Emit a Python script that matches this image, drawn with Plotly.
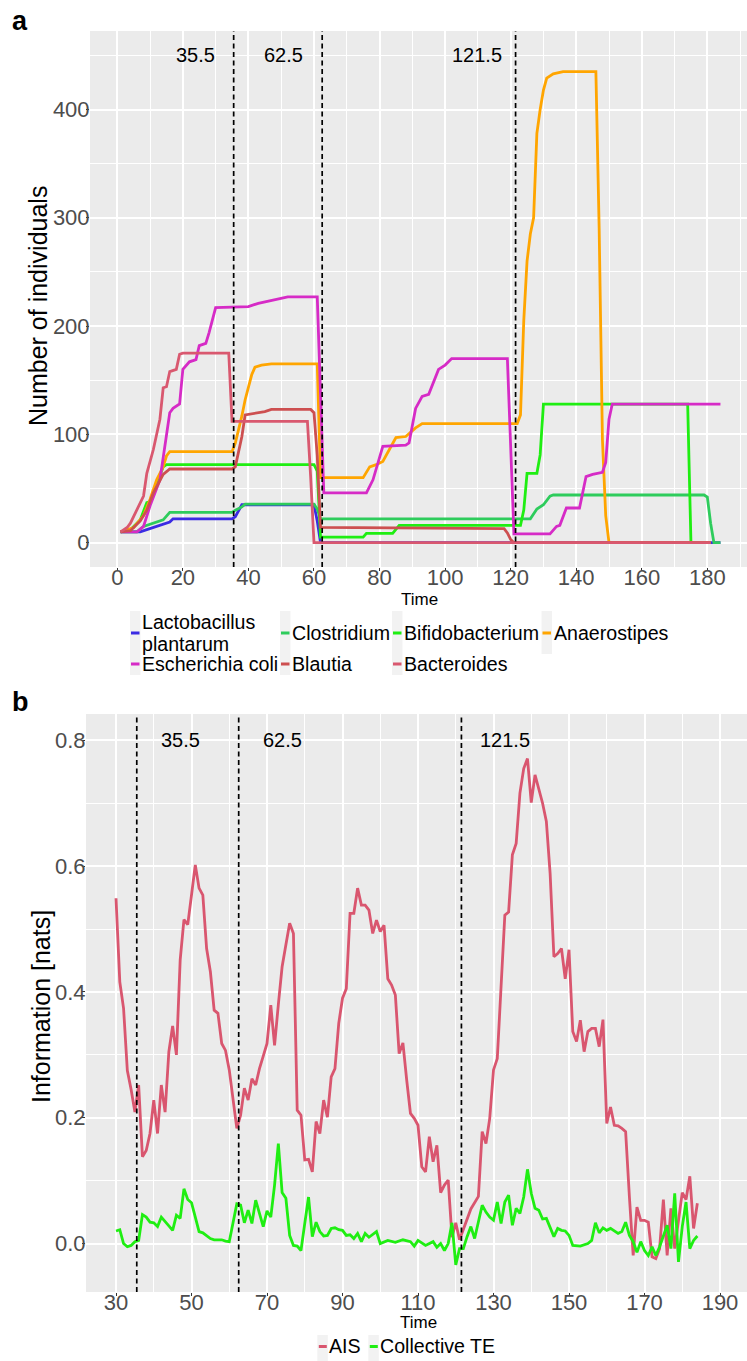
import plotly.graph_objects as go

W, H = 747, 1361
FONT = "Liberation Sans, Arial, sans-serif"

# ---------------- panel a data ----------------
series_names = ["Lactobacillus plantarum", "Clostridium", "Bifidobacterium", "Anaerostipes",
                "Escherichia coli", "Blautia", "Bacteroides"]
series_colors = ["#3B2BE3", "#2ECC5C", "#1FEE12", "#FFA500", "#D62BC6", "#CD4F50", "#D9586F"]

lacto_t = [1, 7, 9, 12, 14, 16, 17, 35, 36, 38, 60, 61, 62, 184]
lacto_v = [10, 10, 12, 15, 17, 19, 22, 22, 24, 35, 35, 20, 0, 0]

clos_t = [1, 6, 8, 10, 12, 14, 16, 35, 36, 38, 39, 60, 61, 62, 126, 128, 130, 132, 133, 179, 180, 181, 182, 184]
clos_v = [10, 10, 15, 17, 19, 21, 28, 28, 30, 33, 35.5, 35.5, 31, 22, 22, 31, 35, 43, 44, 44, 42, 18, 0, 0]

bifi_t = [1, 4, 7, 9, 10, 12, 14, 15, 60, 61, 62, 75, 76, 84, 86, 123, 124, 125, 128, 129, 130, 174, 175, 181]
bifi_v = [10, 12, 21, 37, 38, 55, 70, 72, 72, 66, 5, 5, 8.5, 8.5, 16, 16, 30, 64, 64, 81, 128, 128, 0, 0]

ana_t = [1, 5, 8, 10, 12, 14, 15, 16, 35, 36, 38, 39, 41, 42, 44, 47, 61, 62,
         75, 77, 79, 81, 83, 85, 88, 90, 91, 93,
         121, 122, 123, 124, 125, 126, 127, 128, 129, 130, 131, 133, 136,
         146, 147, 148, 149, 150, 181]
ana_v = [10, 14, 25, 40, 58, 70, 80, 84, 84, 92, 117, 132, 155, 162, 164, 165, 165, 60,
         60, 70, 72, 75, 86, 97, 98, 103, 106, 110,
         110, 110, 118, 205, 260, 285, 300, 378, 400, 418, 429, 433, 435,
         435, 290, 95, 25, 0, 0]

eco_t = [1, 6, 8, 10, 13, 16, 17, 19, 20, 22, 24, 25, 27, 28, 30, 40, 43, 46, 52, 61,
         63, 76, 78, 81, 88, 89, 91, 93, 95, 98, 100, 102, 119, 121, 132, 134, 135, 137, 141, 143,
         145, 148, 149, 150, 151, 184]
eco_v = [10, 10, 15, 34, 58, 120, 124, 128, 160, 167, 169, 182, 184, 194, 217, 218, 221, 223, 227, 227,
         46, 46, 58, 89, 90, 92, 124, 135, 137, 160, 164, 170, 170, 8, 8, 15, 16, 32, 32, 61,
         63, 65, 74, 114, 128, 128]

blau_t = [1, 4, 7, 9, 11, 13, 14, 16, 35, 36, 38, 39, 43, 45, 47, 59, 60, 61, 62, 118, 119, 120, 121, 181]
blau_v = [10, 11, 20, 30, 46, 58, 63, 68, 68, 70, 98, 118, 120, 121, 123, 123, 120, 80, 14, 13, 9, 3, 0, 0]

bact_t = [1, 3, 4, 6, 8, 9, 11, 13, 14, 15, 16, 18, 19, 20, 34, 35, 58, 59, 60, 181]
bact_v = [10, 14, 18, 31, 43, 64, 86, 114, 143, 144, 158, 160, 174, 175, 175, 112, 112, 60, 0, 0]

cut_times = [35.5, 62.5, 121.5]

# ---------------- panel b data ----------------
info_names = ["AIS", "Collective TE"]
info_colors = ["#D9566F", "#1FEE12"]

ais_t = [30, 31, 32, 33, 34, 35, 36, 37, 38, 39,
         40, 41, 42, 43, 44, 45, 46, 47, 48, 49,
         50, 51, 52, 53, 54, 55, 56, 57, 58, 59,
         60, 61, 62, 63, 64, 65, 66, 67, 68, 69,
         70, 71, 72, 73, 74, 75, 76, 77, 78, 79,
         80, 81, 82, 83, 84, 85, 86, 87, 88, 89,
         90, 91, 92, 93, 94, 95, 96, 97, 98, 99,
         100, 101, 102, 103, 104, 105, 106, 107, 108, 109,
         110, 111, 112, 113, 114, 115, 116, 117, 118, 119,
         120, 121, 123, 124, 126, 127, 128, 129, 130, 131,
         133, 134, 135, 136, 137, 138, 139, 140, 141, 142,
         143, 144, 145, 146, 147, 148, 149, 150, 151, 152,
         153, 154, 155, 156, 157, 158, 159, 160, 161, 162,
         163, 164, 165, 166, 167, 168, 169, 170, 171, 172,
         173, 174, 175, 176, 177, 178, 180, 181, 182, 183,
         184]
ais_v = [.549, .416, .374, .275, .245, .209, .252, .138, .148, .175,
         .228, .175, .252, .209, .305, .346, .300, .451, .515, .507,
         .554, .602, .565, .554, .469, .432, .371, .366, .318, .307,
         .276, .233, .183, .204, .247, .228, .262, .252, .278, .298,
         .318, .379, .315, .380, .440, .475, .509, .493, .212, .204,
         .133, .134, .114, .194, .175, .228, .201, .265, .278, .350,
         .390, .405, .525, .525, .565, .538, .538, .530, .493, .514,
         .496, .506, .421, .411, .395, .302, .319, .260, .207, .199,
         .188, .122, .114, .170, .130, .156, .081, .093, .101, .010,
         .033, .006, .040, .055, .075, .178, .159, .199, .276, .294,
         .522, .527, .618, .636, .716, .755, .771, .701, .745, .724,
         .700, .671, .588, .456, .461, .469, .421, .467, .337, .321,
         .355, .305, .337, .342, .342, .313, .356, .191, .217, .188,
         .187, .183, .178, .074, -.019, .058, .037, .037, .034, -.021,
         -.024, -.008, .070, -.019, .056, -.008, .081, .070, .107, .024,
         .064]

te_t = [30, 31, 32, 33, 34, 35, 36, 37, 38, 39,
        40, 41, 42, 43, 44, 45, 46, 47, 48, 49,
        50, 51, 52, 53, 54, 55, 56, 58, 59, 60,
        61, 62, 63, 64, 65, 66, 67, 68, 69, 70,
        71, 72, 73, 74, 75, 76, 77, 78, 79, 80,
        81, 82, 83, 84, 85, 86, 87, 88, 89, 90,
        91, 92, 93, 94, 95, 96, 97, 99, 100, 102,
        104, 106, 108, 109, 110, 112, 114, 115, 116, 117,
        118, 119, 120, 121, 122, 123, 124, 125, 127, 128,
        129, 130, 131, 132, 133, 134, 135, 136, 137, 138,
        139, 140, 141, 142, 143, 144, 146, 147, 148, 149,
        150, 151, 153, 155, 156, 157, 158, 159, 160, 161,
        162, 163, 164, 165, 166, 167, 168, 169, 170, 171,
        172, 173, 174, 175, 176, 177, 178, 179, 180, 181,
        182, 183, 184]
te_v = [.020, .022, .000, -.005, -.003, .003, .005, .046, .042, .034,
        .033, .027, .042, .034, .028, .021, .045, .040, .087, .070,
        .065, .042, .019, .017, .013, .008, .006, .006, .004, .003,
        .033, .063, .061, .033, .053, .032, .069, .050, .027, .052,
        .042, .093, .159, .081, .072, .013, -.003, -.004, -.011, .032,
        .074, .011, .034, .019, .012, .013, .024, .025, .022, .021,
        .013, .014, .008, .016, .003, .016, .010, .019, .000, .005,
        .002, .006, .003, -.004, .005, -.003, .003, -.006, .000, -.011,
        .000, .033, -.034, -.008, -.008, .011, .027, .008, .061, .050,
        .042, .037, .066, .032, .066, .077, .029, .056, .048, .074,
        .118, .080, .056, .053, .039, .040, .011, .024, .021, .020,
        .013, -.003, -.004, .000, .005, .033, .017, .025, .021, .024,
        .020, .016, .019, .034, .013, .003, -.014, .003, -.011, -.019,
        -.005, -.019, -.005, .013, .029, -.008, .080, -.029, .027, .066,
        -.008, .005, .012]


def fx(px):
    return px / W


def fy(py):
    return 1 - py / H


def paper_text(x, y, text, size, angle=0, bold=False):
    return dict(x=fx(x), y=fy(y), xref="paper", yref="paper", text=f"<b>{text}</b>" if bold else text,
                textangle=angle, xanchor="center", yanchor="middle", showarrow=False,
                font=dict(size=size, color="black", family=FONT))


fig = go.Figure()

panel_a = [(lacto_t, lacto_v), (clos_t, clos_v), (bifi_t, bifi_v), (ana_t, ana_v),
           (eco_t, eco_v), (blau_t, blau_v), (bact_t, bact_v)]
for name, color, (t, v) in zip(series_names, series_colors, panel_a):
    fig.add_trace(go.Scatter(x=t, y=v, mode="lines", name=name, showlegend=False,
                             line=dict(color=color, width=2.8), xaxis="x", yaxis="y"))

panel_b = [(ais_t, ais_v), (te_t, te_v)]
for name, color, (t, v) in zip(info_names, info_colors, panel_b):
    fig.add_trace(go.Scatter(x=t, y=v, mode="lines", name=name, showlegend=False,
                             line=dict(color=color, width=2.8), xaxis="x2", yaxis="y2"))

shapes = []
annotations = []

# dashed cut lines + labels
for c in cut_times:
    for xr, yr in (("x", "y domain"), ("x2", "y2 domain")):
        shapes.append(dict(type="line", xref=xr, yref=yr, x0=c, x1=c, y0=0, y1=1,
                           line=dict(color="black", width=1.7, dash="5px,3.5px"), layer="above"))
    annotations.append(dict(x=c - 11.7, y=450, xref="x", yref="y", text=f"{c}", showarrow=False,
                            xanchor="center", yanchor="middle",
                            font=dict(size=20, color="black", family=FONT)))
    annotations.append(dict(x=c + 11.5, y=0.8, xref="x2", yref="y2", text=f"{c}", showarrow=False,
                            xanchor="center", yanchor="middle",
                            font=dict(size=20, color="black", family=FONT)))

# panel letters and axis titles
annotations.append(paper_text(20, 21, "a", 27, bold=True))
annotations.append(paper_text(20, 702, "b", 27, bold=True))
annotations.append(paper_text(38, 306, "Number of individuals", 25, angle=-90))
annotations.append(paper_text(41, 1007, "Information [nats]", 25, angle=-90))
annotations.append(paper_text(419, 599, "Time", 17))
annotations.append(paper_text(418, 1322.5, "Time", 17))

# legend a (ggplot-style keys)
key_cols = [130, 280, 392, 541.5]
key_rows = [633, 664]
slots = [(0, 0), (1, 0), (2, 0), (3, 0), (0, 1), (1, 1), (2, 1)]
for ci, kx in enumerate(key_cols):
    bottom = 675 if ci < 3 else 654
    shapes.append(dict(type="rect", xref="paper", yref="paper", x0=fx(kx), x1=fx(kx + 10.5),
                       y0=fy(bottom), y1=fy(611), fillcolor="#F2F2F2", line=dict(width=0), layer="below"))
for name, color, (ci, ri) in zip(series_names, series_colors, slots):
    kx = key_cols[ci]
    ky = key_rows[ri]
    shapes.append(dict(type="line", xref="paper", yref="paper", x0=fx(kx + 1), x1=fx(kx + 9.5),
                       y0=fy(ky), y1=fy(ky), line=dict(color=color, width=3)))
    words = name.split(" ")
    if name.startswith("Lactobacillus"):
        lines = [(words[0], ky - 11), (" ".join(words[1:]), ky + 10.5)]
    else:
        lines = [(name, ky)]
    for txt, yy in lines:
        annotations.append(dict(x=fx(kx + 10), y=fy(yy), xref="paper", yref="paper", text=txt,
                                xanchor="left", yanchor="middle", showarrow=False,
                                font=dict(size=19.6, color="black", family=FONT)))

# legend b
leg_b = [317.3, 368.3]
for name, color, kx in zip(info_names, info_colors, leg_b):
    shapes.append(dict(type="rect", xref="paper", yref="paper", x0=fx(kx), x1=fx(kx + 10.5),
                       y0=fy(1361), y1=fy(1335), fillcolor="#F2F2F2", line=dict(width=0), layer="below"))
    shapes.append(dict(type="line", xref="paper", yref="paper", x0=fx(kx + 1.5), x1=fx(kx + 9.5),
                       y0=fy(1346.5), y1=fy(1346.5), line=dict(color=color, width=3)))
    annotations.append(dict(x=fx(kx + 10), y=fy(1346), xref="paper", yref="paper", text=name,
                            xanchor="left", yanchor="middle", showarrow=False,
                            font=dict(size=19.6, color="black", family=FONT)))

tickfont = dict(size=22, color="#4D4D4D", family=FONT)
common = dict(showline=False, zeroline=False, gridcolor="white", gridwidth=1.8,
              ticks="outside", ticklen=3, tickwidth=1.2, tickcolor="#333333",
              tickfont=tickfont, automargin=False, fixedrange=True)
xcommon = dict(common, ticklabelstandoff=-12)
ycommon = dict(common, ticklabelstandoff=-8)

fig.update_layout(
    width=W, height=H,
    margin=dict(l=0, r=0, t=0, b=0),
    paper_bgcolor="white",
    plot_bgcolor="#EBEBEB",
    font=dict(family=FONT),
    showlegend=False,
    xaxis=dict(domain=[fx(90), 1], range=[-8.33, 192.1], anchor="y", tick0=0, dtick=20,
               minor=dict(tick0=0, dtick=10, showgrid=True, gridcolor="white", gridwidth=0.9, ticklen=0),
               **xcommon),
    yaxis=dict(domain=[fy(567), fy(31)], range=[-22.5, 472.5], anchor="x", tick0=0, dtick=100,
               minor=dict(tick0=0, dtick=50, showgrid=True, gridcolor="white", gridwidth=0.9, ticklen=0),
               **ycommon),
    xaxis2=dict(domain=[fx(86), 1], range=[22.05, 197.15], anchor="y2", tick0=30, dtick=20,
                minor=dict(tick0=30, dtick=10, showgrid=True, gridcolor="white", gridwidth=0.9, ticklen=0),
                **xcommon),
    yaxis2=dict(domain=[fy(1292), fy(714)], range=[-0.077, 0.8418], anchor="x2", tick0=0, dtick=0.2,
                tickformat=".1f",
                minor=dict(tick0=0, dtick=0.1, showgrid=True, gridcolor="white", gridwidth=0.9, ticklen=0),
                **ycommon),
    shapes=shapes,
    annotations=annotations,
)

fig.write_html("out.html")
